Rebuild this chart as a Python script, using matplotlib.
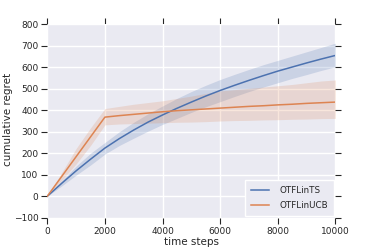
import numpy as np
import matplotlib
matplotlib.use("Agg")
import matplotlib.pyplot as plt

steps = [0, 500, 1000, 1500, 2000, 2500, 3000, 3500, 4000, 4500, 5000,
         5500, 6000, 6500, 7000, 7500, 8000, 8500, 9000, 9500, 10000]

ts_mean = [0, 60, 118, 172, 224, 268, 308, 345, 378, 409, 438, 466, 492, 516,
           539, 561, 582, 601, 620, 638, 655]
ts_upper = [0, 72, 140, 200, 250, 300, 344, 384, 420, 455, 487, 516, 543, 567,
            590, 612, 632, 652, 672, 692, 712]
ts_lower = [0, 48, 98, 145, 196, 236, 270, 303, 334, 362, 390, 416, 440, 464,
            487, 508, 528, 548, 566, 585, 602]

ucb_mean = [0, 92, 184, 276, 368, 375, 381, 387, 393, 398, 402, 406, 410, 414,
            418, 421, 425, 428, 432, 435, 438]
ucb_upper = [0, 110, 222, 318, 408, 418, 428, 436, 444, 455, 466, 478, 490, 496,
             502, 508, 514, 520, 528, 536, 541]
ucb_lower = [0, 74, 150, 236, 332, 336, 338, 340, 342, 344, 345, 347, 350, 352,
             353, 355, 356, 358, 359, 361, 362]

labels = ["OTFLinTS", "OTFLinUCB"]
colors = ["#4c72b0", "#dd8452"]

fig = plt.figure(figsize=(3.74, 2.49), dpi=100)
ax = fig.add_axes([0.1265, 0.1257, 0.77, 0.7767])
ax.set_facecolor("#eaeaf2")
for s in ax.spines.values():
    s.set_visible(False)
ax.grid(True, color="white", linewidth=1.0)
ax.set_axisbelow(True)

series = [(ts_mean, ts_lower, ts_upper), (ucb_mean, ucb_lower, ucb_upper)]
for (m, lo, hi), lab, c in zip(series, labels, colors):
    ax.fill_between(steps, lo, hi, color=c, alpha=0.2, linewidth=0)
    ax.plot(steps, m, color=c, linewidth=1.1, label=lab)

ax.set_xlim(0, 10000)
ax.set_ylim(-100, 800)
ax.set_xticks([0, 2000, 4000, 6000, 8000, 10000])
ax.set_yticks(range(-100, 801, 100))
ax.tick_params(axis="both", which="major", direction="out", length=4, width=0.8,
               color="#262626", labelsize=6.5, labelcolor="#262626", pad=2.5,
               top=True, right=True, labeltop=False, labelright=False)
ax.set_xlabel("time steps", fontsize=7.5, color="#262626")
ax.set_ylabel("cumulative regret", fontsize=7.5, color="#262626")
ax.xaxis.set_label_coords(0.5, -0.0995)
ax.yaxis.set_label_coords(-0.12, 0.51)

leg = ax.legend(loc="lower right", fontsize=6.3, frameon=True, fancybox=False,
                handlelength=2.0, handletextpad=1.2, labelspacing=0.75,
                borderaxespad=0.15, borderpad=0.7)
leg.get_frame().set_facecolor("#eaeaf2")
leg.get_frame().set_edgecolor("white")
leg.get_frame().set_alpha(1)
for t in leg.get_texts():
    t.set_color("#262626")

fig.savefig("out.png", dpi=100)
